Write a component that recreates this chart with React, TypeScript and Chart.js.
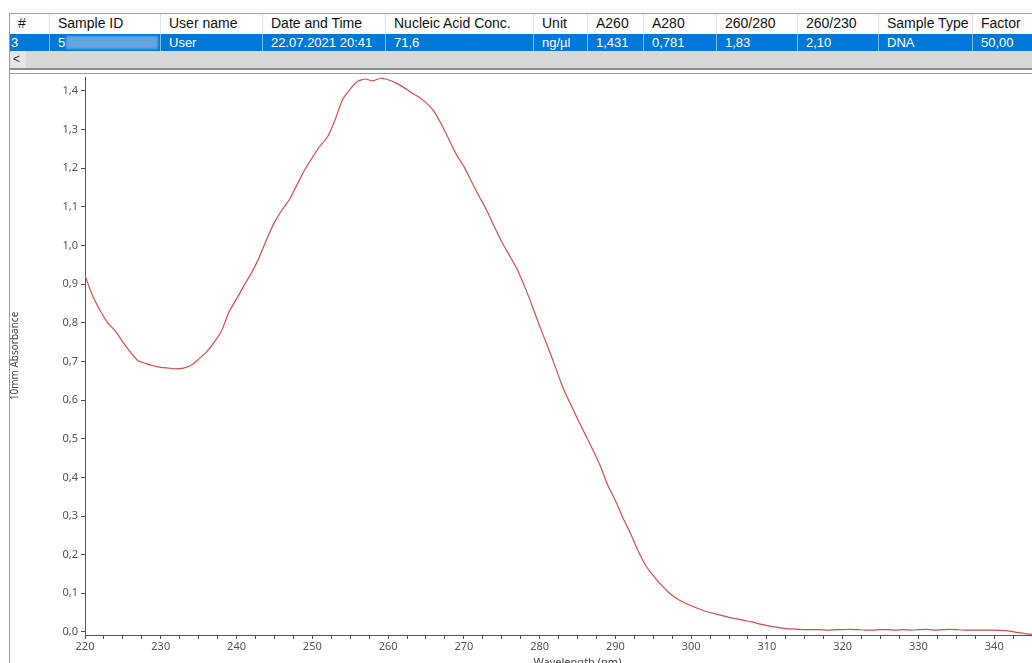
import React, { useEffect, useRef } from 'react';
import { Chart, registerables } from 'chart.js';

Chart.register(...registerables);

// Spectrum: wavelength (nm) and 10 mm absorbance
const wavelengths: number[] = [
  220, 221, 222, 223, 224, 225, 226, 227, 228, 229,
  230, 231, 232, 233, 234, 235, 236, 237, 238, 239,
  240, 241, 242, 243, 244, 245, 246, 247, 248, 249,
  250, 251, 252, 253, 254, 255, 256, 257, 258, 259,
  260, 261, 262, 263, 264, 265, 266, 267, 268, 269,
  270, 271, 272, 273, 274, 275, 276, 277, 278, 279,
  280, 281, 282, 283, 284, 285, 286, 287, 288, 289,
  290, 291, 292, 293, 294, 295, 296, 297, 298, 299,
  300, 301, 302, 303, 304, 305, 306, 307, 308, 309,
  310, 311, 312, 313, 314, 315, 316, 317, 318, 319,
  320, 321, 322, 323, 324, 325, 326, 327, 328, 329,
  330, 331, 332, 333, 334, 335, 336, 337, 338, 339,
  340, 341, 342, 343, 344, 345, 346, 347,
];

const absorbance: number[] = [
  0.922, 0.870, 0.832, 0.800, 0.779, 0.750, 0.724, 0.702, 0.695, 0.689,
  0.685, 0.683, 0.681, 0.683, 0.690, 0.706, 0.724, 0.748, 0.778, 0.828,
  0.862, 0.897, 0.930, 0.970, 1.017, 1.060, 1.092, 1.120, 1.158, 1.196,
  1.228, 1.257, 1.281, 1.325, 1.378, 1.405, 1.425, 1.431, 1.426, 1.433,
  1.429, 1.421, 1.410, 1.397, 1.385, 1.370, 1.349, 1.315, 1.276, 1.236,
  1.205, 1.166, 1.128, 1.092, 1.050, 1.010, 0.975, 0.940, 0.895, 0.845,
  0.792, 0.742, 0.690, 0.636, 0.593, 0.552, 0.512, 0.472, 0.430, 0.380,
  0.340, 0.295, 0.255, 0.210, 0.172, 0.146, 0.123, 0.103, 0.088, 0.077,
  0.068, 0.060, 0.053, 0.048, 0.043, 0.038, 0.034, 0.030, 0.026, 0.021,
  0.017, 0.013, 0.010, 0.008, 0.007, 0.006, 0.006, 0.006, 0.005, 0.006,
  0.006, 0.007, 0.006, 0.005, 0.005, 0.006, 0.006, 0.005, 0.006, 0.005,
  0.006, 0.007, 0.005, 0.006, 0.007, 0.006, 0.005, 0.005, 0.005, 0.005,
  0.005, 0.004, 0.002, -0.001, -0.004, -0.006, -0.007, -0.008,
];

// Axis ticks
const xMajorTicks: number[] = [220, 230, 240, 250, 260, 270, 280, 290, 300, 310, 320, 330, 340, 350];
const yTicks: number[] = [0, 0.1, 0.2, 0.3, 0.4, 0.5, 0.6, 0.7, 0.8, 0.9, 1.0, 1.1, 1.2, 1.3, 1.4];

// Result table above the spectrum
const headerCols: string[] = [
  '#', 'Sample ID', 'User name', 'Date and Time', 'Nucleic Acid Conc.', 'Unit',
  'A260', 'A280', '260/280', '260/230', 'Sample Type', 'Factor',
];
const rowValues: string[] = [
  '3', '5', 'User', '22.07.2021 20:41', '71,6', 'ng/µl',
  '1,431', '0,781', '1,83', '2,10', 'DNA', '50,00',
];
const colLeft: number[] = [9, 49, 160, 262, 385, 533, 587, 643, 716, 797, 878, 972];

const tableFont = '"Liberation Sans", Arial, sans-serif';
const chartFont = '"Noto Sans", "DejaVu Sans", sans-serif';

function Spectrum() {
  const ref = useRef<HTMLCanvasElement | null>(null);

  useEffect(() => {
    if (!ref.current) return;
    const chart = new Chart(ref.current, {
      type: 'line',
      data: {
        datasets: [
          {
            data: wavelengths.map((w, i) => ({ x: w, y: absorbance[i] })),
            borderColor: 'rgb(212, 78, 78)',
            borderWidth: 1.2,
            pointRadius: 0,
            tension: 0.2,
            fill: false,
          },
        ],
      },
      options: {
        animation: false,
        responsive: false,
        maintainAspectRatio: false,
        layout: { padding: { left: 0, top: 2, right: 10, bottom: 0 } },
        plugins: { legend: { display: false }, tooltip: { enabled: false } },
        scales: {
          x: {
            type: 'linear',
            min: 220,
            max: 350,
            afterBuildTicks: (scale: any) => {
              const t: { value: number }[] = [];
              for (let i = 0; i < xMajorTicks.length; i++) {
                t.push({ value: xMajorTicks[i] });
                if (i < xMajorTicks.length - 1) {
                  t.push({ value: xMajorTicks[i] + 2.5 });
                  t.push({ value: xMajorTicks[i] + 5 });
                  t.push({ value: xMajorTicks[i] + 7.5 });
                }
              }
              scale.ticks = t;
            },
            afterFit: (scale: any) => {
              scale.height = 40;
              scale.paddingLeft = 0;
              scale.paddingRight = 0;
            },
            ticks: {
              autoSkip: false,
              maxRotation: 0,
              minRotation: 0,
              padding: 1,
              color: '#555',
              font: { family: chartFont, size: 11 },
              callback: (v: any) => (Math.abs(Number(v) % 10) < 1e-6 ? String(v) : ''),
            },
            grid: {
              drawOnChartArea: false,
              drawTicks: true,
              tickLength: 4,
              color: '#555',
            },
            border: { display: true, color: '#555', width: 1 },
            title: {
              display: true,
              text: 'Wavelength (nm)',
              color: '#444',
              font: { family: chartFont, size: 11 },
              padding: { top: 0, bottom: 6 },
            },
          },
          y: {
            type: 'linear',
            min: -0.0078,
            max: 1.4362,
            afterBuildTicks: (scale: any) => {
              scale.ticks = yTicks.map((v) => ({ value: v }));
            },
            afterFit: (scale: any) => {
              scale.width = 85;
              scale.paddingTop = 0;
              scale.paddingBottom = 0;
            },
            ticks: {
              padding: 3,
              color: '#555',
              font: { family: chartFont, size: 11 },
              callback: (v: any) => Number(v).toFixed(1).replace('.', ','),
            },
            grid: {
              drawOnChartArea: false,
              drawTicks: true,
              tickLength: 4,
              color: '#555',
            },
            border: { display: true, color: '#555', width: 1 },
            title: {
              display: true,
              text: '10mm Absorbance',
              color: '#444',
              font: { family: chartFont, size: 10 },
              padding: { top: 9, bottom: 0 },
            },
          },
        },
      },
    } as any);
    return () => chart.destroy();
  }, []);

  return (
    <canvas
      ref={ref}
      width={1080}
      height={600}
      style={{ position: 'absolute', left: 0, top: 75, width: 1080, height: 600 }}
    />
  );
}

export default function App() {
  return (
    <div
      style={{
        position: 'fixed',
        left: 0,
        top: 0,
        width: 1032,
        height: 663,
        overflow: 'hidden',
        background: '#fff',
        fontFamily: tableFont,
      }}
    >
      {/* header row */}
      <div style={{ position: 'absolute', left: 9, top: 13, width: 1100, height: 1, background: '#a0a0a0' }} />
      {colLeft.slice(1).map((x, i) => (
        <div key={'hs' + i} style={{ position: 'absolute', left: x, top: 14, width: 1, height: 20, background: '#e3e3e3' }} />
      ))}
      {headerCols.map((h, i) => (
        <div
          key={'h' + i}
          style={{
            position: 'absolute',
            left: colLeft[i] + 9,
            top: 15,
            fontSize: 14,
            color: '#111',
            whiteSpace: 'nowrap',
            lineHeight: '17px',
          }}
        >
          {h}
        </div>
      ))}

      {/* selected result row */}
      <div style={{ position: 'absolute', left: 10, top: 34, width: 1100, height: 17, background: 'rgb(0,120,215)' }} />
      {colLeft.slice(1).map((x, i) => (
        <div key={'rs' + i} style={{ position: 'absolute', left: x, top: 34, width: 1, height: 17, background: 'rgba(170,210,245,0.75)' }} />
      ))}
      <div
        style={{
          position: 'absolute',
          left: 66,
          top: 36,
          width: 92,
          height: 13,
          background: 'rgba(120,170,225,0.85)',
          filter: 'blur(1px)',
        }}
      />
      {rowValues.map((v, i) => (
        <div
          key={'r' + i}
          style={{
            position: 'absolute',
            left: i === 0 ? 11 : colLeft[i] + 9,
            top: 34,
            fontSize: 13,
            color: '#fff',
            whiteSpace: 'nowrap',
            lineHeight: '17px',
          }}
        >
          {v}
        </div>
      ))}

      {/* horizontal scroll bar */}
      <div style={{ position: 'absolute', left: 10, top: 51, width: 1100, height: 17, background: '#d8d8d8' }} />
      <div style={{ position: 'absolute', left: 10, top: 51, width: 16, height: 17, background: '#e6e6e6' }} />
      <div style={{ position: 'absolute', left: 13, top: 51, fontSize: 12, lineHeight: '16px', color: '#333' }}>&lt;</div>
      <div style={{ position: 'absolute', left: 9, top: 68, width: 1100, height: 2, background: '#8c8c8c' }} />
      <div style={{ position: 'absolute', left: 9, top: 73, width: 1100, height: 1, background: '#9a9a9a' }} />

      {/* left frame line */}
      <div style={{ position: 'absolute', left: 9, top: 13, width: 1, height: 660, background: '#9a9a9a' }} />

      <Spectrum />
    </div>
  );
}
